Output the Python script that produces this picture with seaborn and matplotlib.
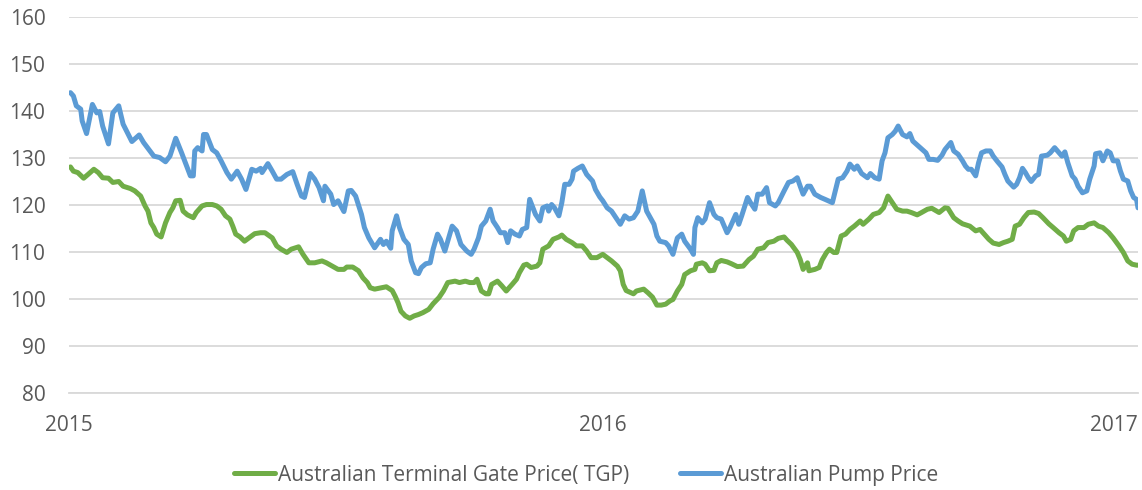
import matplotlib
matplotlib.use("Agg")
import matplotlib.pyplot as plt
import numpy as np
import pandas as pd
import seaborn as sns

# ---------------- data ----------------
start_date = "2015-01-01"
end_date = "2017-01-01"
tick_dates = ["2015-01-01", "2016-01-01", "2017-01-01"]
x_tick_labels = ["2015", "2016", "2017"]
y_ticks = [80, 90, 100, 110, 120, 130, 140, 150, 160]

series_names = ["Australian Terminal Gate Price( TGP)", "Australian Pump Price"]
series_colours = ["#70AD47", "#5B9BD5"]

# days since 2015-01-01
tgp_days = [1, 3, 6, 10, 13, 17, 20, 23, 27, 30, 34, 37, 42, 45, 49, 52, 54, 56, 58, 60,
            63, 66, 69, 71, 73, 76, 78, 81, 85, 87, 91, 94, 98, 101, 104, 107, 110, 112, 114, 117,
            120, 124, 127, 131, 134, 139, 142, 145, 149, 152, 157, 160, 164, 168, 173, 176, 180, 184, 188, 190,
            194, 198, 201, 204, 206, 209, 214, 217, 221, 223, 225, 227, 230, 233, 236, 239, 242, 246, 249, 253,
            256, 259, 264, 267, 271, 274, 277, 279, 282, 285, 287, 289, 293, 296, 299, 303, 306, 308, 311, 313,
            316, 320, 322, 324, 328, 331, 335, 337, 340, 344, 347, 351, 354, 357, 361, 365, 368, 371, 375, 377,
            379, 381, 386, 388, 393, 396, 399, 402, 405, 408, 411, 413, 416, 419, 421, 425, 428, 429, 433, 435,
            438, 441, 443, 446, 450, 453, 457, 461, 465, 468, 471, 475, 478, 482, 485, 489, 491, 494, 498, 500,
            502, 505, 506, 510, 513, 515, 518, 520, 523, 525, 528, 531, 534, 537, 541, 543, 547, 550, 554, 557,
            560, 563, 566, 570, 573, 576, 580, 583, 587, 590, 595, 599, 601, 605, 608, 611, 616, 620, 623, 625,
            629, 632, 636, 639, 642, 645, 647, 650, 653, 656, 660, 663, 666, 670, 673, 677, 680, 682, 685, 687,
            690, 694, 697, 701, 704, 707, 711, 714, 718, 721, 724, 727, 730, 731]
tgp_values = [128.1, 127.2, 126.9, 125.7, 126.5, 127.6, 126.9, 125.8, 125.7, 124.8, 125.0, 124.0, 123.5, 123.0, 121.9, 119.8, 118.7, 116.2, 115.2, 113.8,
              113.2, 116.2, 118.4, 119.4, 120.9, 121.0, 118.7, 117.9, 117.3, 118.4, 119.8, 120.1, 120.1, 119.8, 119.1, 117.7, 117.0, 115.5, 113.8, 113.2,
              112.3, 113.2, 113.9, 114.1, 114.1, 113.0, 111.3, 110.6, 109.9, 110.6, 111.1, 109.5, 107.7, 107.7, 108.1, 107.7, 107.0, 106.3, 106.3, 106.8,
              106.8, 106.0, 104.5, 103.5, 102.4, 102.1, 102.4, 102.6, 101.8, 100.6, 99.2, 97.4, 96.4, 95.9, 96.4, 96.7, 97.1, 97.8, 99.0, 100.3,
              101.7, 103.5, 103.8, 103.5, 103.8, 103.5, 103.5, 104.2, 101.7, 101.1, 101.1, 103.1, 103.8, 102.8, 101.7, 103.1, 104.2, 105.6, 107.2, 107.4,
              106.7, 107.0, 107.7, 110.6, 111.3, 112.7, 113.2, 113.6, 112.7, 112.0, 111.3, 111.3, 110.2, 108.8, 108.8, 109.5, 108.8, 108.1, 107.0, 106.0,
              103.1, 101.8, 101.1, 101.7, 102.1, 101.3, 100.4, 98.7, 98.7, 98.9, 99.6, 99.9, 101.7, 103.1, 105.2, 106.0, 106.3, 107.4, 107.7, 107.4,
              106.0, 106.1, 107.7, 108.2, 107.9, 107.5, 106.9, 107.0, 108.4, 109.1, 110.6, 110.9, 112.0, 112.3, 112.9, 113.2, 112.5, 111.6, 109.9, 108.4,
              106.3, 107.7, 106.0, 106.3, 106.7, 108.3, 109.9, 110.6, 109.9, 109.9, 113.4, 113.8, 114.8, 115.5, 116.6, 115.9, 117.0, 118.0, 118.4, 119.4,
              121.9, 120.5, 119.1, 118.7, 118.7, 118.4, 117.9, 118.4, 119.1, 119.3, 118.4, 119.4, 119.3, 117.3, 116.6, 116.0, 115.5, 114.5, 114.8, 114.1,
              112.7, 111.9, 111.6, 112.0, 112.3, 112.7, 115.5, 115.9, 117.3, 118.4, 118.5, 118.2, 117.3, 116.0, 115.2, 114.1, 113.4, 112.3, 112.7, 114.5,
              115.2, 115.2, 115.9, 116.2, 115.5, 115.2, 114.1, 113.0, 111.3, 109.9, 108.1, 107.4, 107.2, 107.2]

pump_days = [1, 3, 5, 8, 9, 12, 16, 19, 21, 23, 27, 30, 34, 37, 43, 48, 51, 58, 62, 66,
             69, 73, 77, 83, 85, 86, 88, 91, 92, 94, 98, 101, 104, 108, 111, 115, 118, 121, 125, 128,
             131, 132, 136, 139, 142, 145, 149, 153, 156, 159, 161, 165, 168, 171, 174, 175, 179, 181, 184, 188,
             191, 193, 196, 200, 202, 205, 209, 213, 215, 217, 220, 221, 224, 226, 229, 232, 234, 237, 239, 241,
             244, 247, 249, 252, 254, 257, 262, 265, 268, 270, 272, 275, 277, 280, 282, 285, 288, 290, 293, 295,
             298, 300, 302, 305, 308, 310, 313, 315, 319, 322, 324, 327, 328, 330, 332, 335, 337, 339, 342, 344,
             345, 348, 351, 354, 358, 360, 363, 365, 368, 371, 374, 377, 380, 383, 386, 389, 392, 395, 398, 400,
             402, 404, 408, 410, 413, 416, 419, 421, 425, 427, 428, 430, 433, 435, 438, 441, 443, 446, 450, 452,
             456, 458, 460, 464, 466, 469, 471, 474, 477, 479, 483, 485, 489, 492, 495, 498, 500, 502, 505, 507,
             510, 514, 517, 522, 524, 526, 529, 532, 534, 537, 539, 542, 546, 548, 551, 554, 556, 558, 560, 563,
             565, 567, 570, 573, 575, 577, 582, 586, 588, 591, 594, 597, 599, 603, 605, 608, 611, 613, 615, 617,
             620, 622, 624, 627, 630, 632, 635, 638, 640, 642, 646, 648, 650, 652, 654, 656, 658, 661, 663, 665,
             669, 671, 674, 677, 679, 681, 683, 686, 688, 690, 693, 696, 698, 701, 702, 705, 707, 710, 712, 714,
             717, 719, 721, 724, 726, 728, 730, 731]
pump_values = [143.9, 143.2, 141.1, 140.4, 137.9, 135.2, 141.4, 139.6, 139.9, 136.8, 133.0, 139.6, 141.1, 137.2, 133.5, 134.9, 133.3, 130.4, 130.1, 129.2,
               130.4, 134.2, 131.1, 126.2, 126.2, 131.5, 132.2, 131.5, 135.0, 135.0, 131.8, 131.1, 129.4, 126.9, 125.5, 127.2, 125.5, 123.3, 127.6, 127.2,
               127.8, 126.9, 128.8, 127.2, 125.5, 125.5, 126.5, 127.1, 124.4, 121.9, 121.6, 126.7, 125.5, 123.7, 120.9, 124.0, 122.3, 120.1, 120.9, 118.6,
               123.0, 123.1, 121.9, 118.0, 115.2, 113.0, 110.9, 112.7, 111.6, 112.3, 110.8, 114.5, 117.7, 115.2, 112.7, 111.6, 108.1, 105.6, 105.4, 106.7,
               107.5, 107.7, 110.6, 113.8, 112.7, 110.2, 115.5, 114.5, 111.6, 110.9, 110.2, 109.5, 110.6, 113.0, 115.5, 116.6, 119.1, 116.6, 115.2, 114.1,
               114.1, 112.0, 114.5, 113.8, 113.4, 114.8, 115.2, 121.2, 118.0, 116.6, 119.4, 119.8, 118.7, 120.1, 119.4, 117.7, 120.5, 124.4, 124.4, 125.5,
               127.2, 127.8, 128.3, 126.5, 125.1, 123.3, 121.7, 120.9, 119.4, 118.7, 117.3, 115.9, 117.7, 117.0, 117.3, 118.7, 123.0, 118.7, 117.0, 115.9,
               113.4, 112.3, 112.0, 111.3, 109.5, 113.0, 113.8, 112.3, 110.6, 109.5, 115.2, 117.3, 116.2, 117.0, 120.5, 118.0, 117.3, 117.0, 114.1, 115.2,
               118.0, 115.9, 117.7, 121.6, 120.5, 119.1, 122.3, 122.3, 123.7, 120.5, 119.8, 120.5, 123.0, 124.8, 125.1, 125.8, 124.0, 122.3, 124.0, 124.0,
               122.3, 121.6, 121.2, 120.5, 123.0, 125.5, 125.8, 127.2, 128.7, 127.6, 128.3, 126.7, 125.8, 126.7, 125.8, 125.5, 129.4, 131.1, 134.3, 135.0,
               135.7, 136.8, 135.0, 134.5, 135.2, 133.6, 132.2, 131.1, 129.7, 129.7, 129.5, 130.6, 131.8, 133.3, 131.5, 130.8, 129.4, 128.3, 127.6, 127.6,
               126.2, 129.0, 131.1, 131.5, 131.5, 130.4, 129.2, 128.1, 126.5, 125.1, 123.8, 124.4, 125.8, 127.8, 126.9, 125.8, 125.0, 126.2, 126.5, 130.4,
               130.6, 131.1, 132.2, 131.1, 130.4, 131.3, 129.0, 126.2, 125.5, 124.0, 122.6, 123.0, 125.5, 128.3, 130.9, 131.1, 129.4, 131.5, 131.1, 129.4,
               129.4, 127.2, 125.5, 125.1, 123.0, 121.6, 121.2, 119.4]

# ---------------- build table ----------------
origin = pd.Timestamp(start_date)
df = pd.concat([
    pd.DataFrame({"date": origin + pd.to_timedelta(tgp_days, unit="D"),
                  "price": tgp_values, "series": series_names[0]}),
    pd.DataFrame({"date": origin + pd.to_timedelta(pump_days, unit="D"),
                  "price": pump_values, "series": series_names[1]}),
], ignore_index=True)

# ---------------- plot ----------------
sns.set_style("white")
plt.rcParams["font.family"] = ["Open Sans", "DejaVu Sans"]
text_grey = "#595959"
grid_grey = "#D9D9D9"

fig = plt.figure(figsize=(11.42, 4.9), dpi=100)
ax = fig.add_axes([69 / 1142, 1 - 393 / 490, (1138 - 69) / 1142, (393 - 17) / 490])

sns.lineplot(data=df, x="date", y="price", hue="series", hue_order=series_names,
             palette=series_colours, linewidth=3.6, estimator=None, sort=False,
             ax=ax)

ax.set_xlim(pd.Timestamp(start_date), pd.Timestamp(end_date))
ax.set_ylim(y_ticks[0], y_ticks[-1])
ax.set_yticks(y_ticks)
ax.set_xticks([pd.Timestamp(d) for d in tick_dates])
ax.set_xticklabels(x_tick_labels)
ax.set_xlabel("")
ax.set_ylabel("")

ax.grid(axis="y", color=grid_grey, linewidth=1.3)
ax.set_axisbelow(True)
for side in ["top", "right", "left"]:
    ax.spines[side].set_visible(False)
ax.spines["bottom"].set_color(grid_grey)
ax.spines["bottom"].set_linewidth(1.3)

ax.tick_params(axis="y", length=0, pad=17, labelsize=15, labelcolor=text_grey)
ax.tick_params(axis="x", length=5, width=1.3, color=grid_grey, pad=11,
               labelsize=15, labelcolor=text_grey)
ax.get_xticklabels()[-1].set_horizontalalignment("right")

handles, labels = ax.get_legend_handles_labels()
ax.get_legend().remove()
fig.legend(handles, labels, loc="center", bbox_to_anchor=(586 / 1142, 1 - 475 / 490),
           ncol=2, frameon=False, fontsize=15, labelcolor=text_grey,
           handlelength=1.95, handletextpad=0.15, columnspacing=2.45)

fig.savefig("out.png", dpi=100)
